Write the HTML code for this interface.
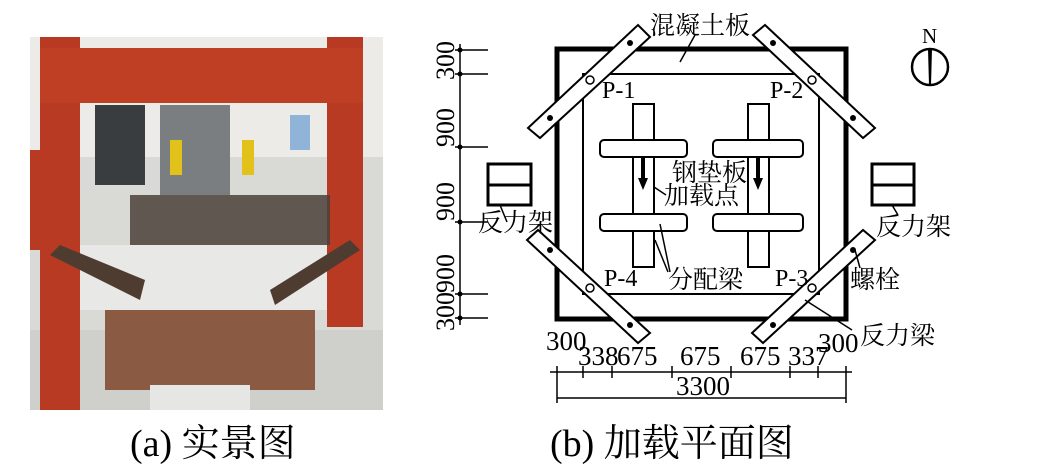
<!DOCTYPE html>
<html><head><meta charset="utf-8"><style>
body{margin:0;background:#fff;width:1043px;height:473px;overflow:hidden}
svg{display:block}
text{font-family:"Liberation Serif","Noto Serif CJK SC",serif;fill:#000}
</style></head><body>
<svg width="1043" height="473" viewBox="0 0 1043 473">
<rect x="30" y="37" width="353" height="373" fill="#d9d9d6"/>
<rect x="30" y="37" width="353" height="120" fill="#ecebe8"/>
<rect x="95" y="105" width="50" height="80" fill="#3a3d3f"/>
<rect x="160" y="105" width="70" height="90" fill="#7a7e80"/>
<rect x="290" y="115" width="20" height="35" fill="#8fb4d8"/>
<rect x="30" y="330" width="353" height="80" fill="#cfcfcc"/>
<rect x="105" y="300" width="210" height="90" fill="#8b5a42"/>
<rect x="80" y="245" width="260" height="65" fill="#e8e8e6"/>
<rect x="150" y="385" width="100" height="25" fill="#e6e6e4"/>
<rect x="40" y="37" width="40" height="373" fill="#b83a22"/>
<rect x="327" y="37" width="36" height="290" fill="#b83a22"/>
<rect x="40" y="48" width="323" height="55" fill="#bf3f25"/>
<rect x="30" y="150" width="20" height="100" fill="#b83a22"/>
<rect x="170" y="140" width="12" height="35" fill="#e2c21a"/>
<rect x="242" y="140" width="12" height="35" fill="#e2c21a"/>
<rect x="130" y="195" width="200" height="50" fill="#4a4038" opacity=".85"/>
<polygon points="50,255 60,245 145,280 140,300" fill="#4e3c30"/>
<polygon points="270,290 350,240 360,250 275,305" fill="#4e3c30"/>
<g stroke="#000" fill="none">
<rect x="557" y="49" width="289" height="270" stroke-width="5"/>
<rect x="583" y="74" width="236" height="220" stroke-width="2"/>
<line x1="460" y1="44" x2="460" y2="325" stroke-width="1.5"/>
<g stroke-width="1.5">
<line x1="455" y1="50" x2="488" y2="50"/><line x1="455" y1="74" x2="488" y2="74"/>
<line x1="455" y1="147" x2="488" y2="147"/><line x1="455" y1="222" x2="488" y2="222"/>
<line x1="455" y1="294" x2="488" y2="294"/><line x1="455" y1="318" x2="488" y2="318"/>
</g>
<line x1="550" y1="372" x2="852" y2="372" stroke-width="1.5"/>
<line x1="557" y1="398" x2="846" y2="398" stroke-width="1.5"/>
<g stroke-width="1.5">
<line x1="557" y1="366" x2="557" y2="403"/><line x1="583" y1="366" x2="583" y2="378"/>
<line x1="612" y1="366" x2="612" y2="378"/><line x1="672" y1="366" x2="672" y2="378"/>
<line x1="731" y1="366" x2="731" y2="378"/><line x1="790" y1="366" x2="790" y2="378"/>
<line x1="818" y1="366" x2="818" y2="378"/><line x1="846" y1="366" x2="846" y2="403"/>
</g>
<rect x="633" y="104" width="21" height="163" stroke-width="2" fill="#fff"/>
<rect x="748" y="104" width="21" height="163" stroke-width="2" fill="#fff"/>
<g stroke-width="2">
<rect x="600" y="140" width="87" height="17" rx="4" fill="#fff"/>
<rect x="713" y="140" width="90" height="17" rx="4" fill="#fff"/>
<rect x="600" y="214" width="87" height="17" rx="4" fill="#fff"/>
<rect x="713" y="214" width="90" height="17" rx="4" fill="#fff"/>
</g>
<g stroke-width="2" fill="#fff">
<polygon points="528,128 638,25 650,37 540,138"/>
<polygon points="753,35 765,25 875,128 863,138"/>
<polygon points="527,240 538,230 650,333 638,343"/>
<polygon points="752,333 863,230 875,240 763,343"/>
</g>
<rect x="488" y="164" width="43" height="41" stroke-width="3"/>
<line x1="488" y1="185" x2="531" y2="185" stroke-width="3"/>
<rect x="872" y="164" width="42" height="41" stroke-width="3"/>
<line x1="872" y1="185" x2="914" y2="185" stroke-width="3"/>
<circle cx="930" cy="67" r="18" stroke-width="2.5"/>
<g stroke-width="1.5">
<line x1="680" y1="62" x2="695" y2="35"/>
<line x1="654" y1="187" x2="666" y2="195"/>
<line x1="655" y1="240" x2="668" y2="272"/><line x1="660" y1="224" x2="670" y2="272"/>
<line x1="507" y1="222" x2="500" y2="205"/>
<line x1="892" y1="205" x2="898" y2="215"/>
<line x1="855" y1="250" x2="860" y2="268"/>
<line x1="805" y1="300" x2="852" y2="330"/>
</g>
<circle cx="590" cy="80" r="4" stroke-width="1.5"/><circle cx="812" cy="80" r="4" stroke-width="1.5"/>
<circle cx="590" cy="288" r="4" stroke-width="1.5"/><circle cx="812" cy="288" r="4" stroke-width="1.5"/>
</g>
<g fill="#000">
<circle cx="460" cy="50" r="2.5"/><circle cx="460" cy="74" r="2.5"/><circle cx="460" cy="147" r="2.5"/>
<circle cx="460" cy="222" r="2.5"/><circle cx="460" cy="294" r="2.5"/><circle cx="460" cy="318" r="2.5"/>
<circle cx="630" cy="43" r="3"/><circle cx="550" cy="118" r="3"/>
<circle cx="773" cy="43" r="3"/><circle cx="853" cy="118" r="3"/>
<circle cx="550" cy="250" r="3"/><circle cx="630" cy="325" r="3"/>
<circle cx="773" cy="325" r="3"/><circle cx="853" cy="250" r="3"/>
<polygon points="641,158 645,158 645,178 648,178 643,190 638,178 641,178"/>
<polygon points="756,158 760,158 760,178 763,178 758,190 753,178 756,178"/>
<polygon points="928,49 932,49 931,85 929,85"/>
</g>
<g font-size="25">
<text x="650" y="34">混凝土板</text>
<text x="672" y="181">钢垫板</text>
<text x="664" y="204">加载点</text>
<text x="668" y="288">分配梁</text>
<text x="478" y="231">反力架</text>
<text x="876" y="235">反力架</text>
<text x="850" y="288">螺栓</text>
<text x="860" y="344">反力梁</text>
</g>
<g font-size="24">
<text x="602" y="98">P-1</text><text x="770" y="98">P-2</text>
<text x="604" y="286">P-4</text><text x="775" y="286">P-3</text>
<text x="922" y="43" font-size="21">N</text>
</g>
<g font-size="27">
<text x="546" y="350">300</text><text x="578" y="365">338</text><text x="617" y="365">675</text>
<text x="680" y="365">675</text><text x="740" y="365">675</text><text x="788" y="365">337</text>
<text x="818" y="352">300</text><text x="676" y="395">3300</text>
</g>
<g font-size="26">
<text transform="translate(454,80) rotate(-90)">300</text>
<text transform="translate(454,147) rotate(-90)">900</text>
<text transform="translate(454,221) rotate(-90)">900</text>
<text transform="translate(454,293) rotate(-90)">900</text>
<text transform="translate(454,331) rotate(-90)">300</text>
</g>
<text x="130" y="456" font-size="38">(a) 实景图</text>
<text x="550" y="456" font-size="38">(b) 加载平面图</text>
</svg>
</body></html>
